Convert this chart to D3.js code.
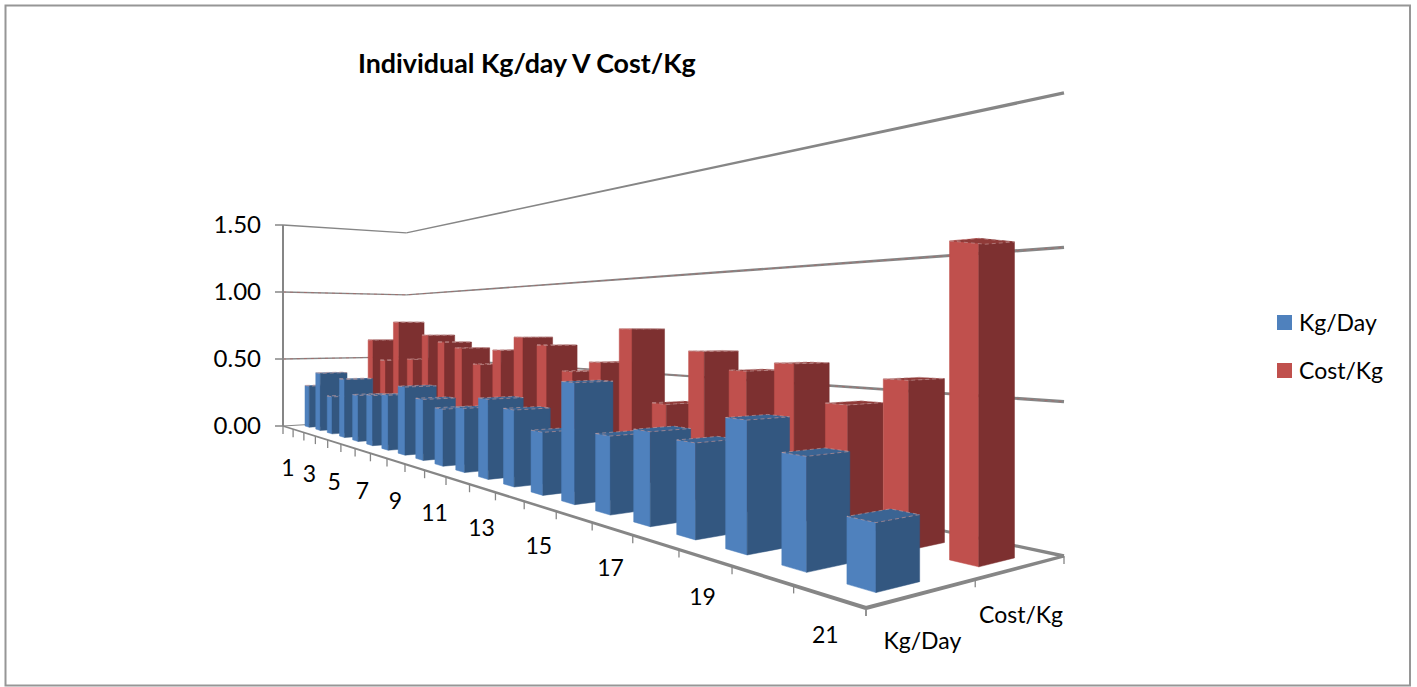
<!DOCTYPE html>
<html>
<head>
<meta charset="utf-8">
<script src="https://cdn.jsdelivr.net/npm/d3@7"></script>
<style>
  html, body { margin: 0; padding: 0; background: #fff; }
  svg { display: block; }
  text { font-family: Lato, "Open Sans", sans-serif; fill: #000; }
</style>
</head>
<body>
<div id="graph"></div>
<script>
const width = 1417,
  height = 687;

const categories = d3.range(1, 22);
const labelledCategories = [1, 3, 5, 7, 9, 11, 13, 15, 17, 19, 21];
const seriesNames = ["Kg/Day", "Cost/Kg"];
const kgDay = [0.303, 0.408, 0.256, 0.388, 0.297, 0.312, 0.330, 0.393, 0.338, 0.303, 0.326,
  0.389, 0.356, 0.277, 0.508, 0.311, 0.352, 0.337, 0.438, 0.350, 0.195];
const costKg = [0.640, 0.491, 0.776, 0.513, 0.685, 0.641, 0.607, 0.512, 0.604, 0.683, 0.642,
  0.510, 0.565, 0.732, 0.395, 0.637, 0.564, 0.602, 0.464, 0.564, 1.015];
const valueTicks = [0, 0.5, 1, 1.5];

const seriesValues = [kgDay, costKg];
const faceColors = [
  { side: "#4f81bd", front: "#335780", top: "#3b6493" },
  { side: "#c0504d", front: "#7d3030", top: "#8f3a38" }
];

const svg = d3.select("#graph").append("svg")
  .attr("width", width)
  .attr("height", height);

// floor of the 3d box on screen, going left, front, right, back
const floor = [[283, 426], [866, 608], [1064, 556], [406.3, 418.8]];

const uScale = d3.scaleBand().domain(categories).range([0.002, 1])
  .paddingInner(0.6).paddingOuter(0.3);
const vScale = d3.scaleBand().domain(seriesNames).range([-0.01, 0.99])
  .paddingInner(0.6).paddingOuter(0.3);
const valueScale = d3.scaleLinear().domain([0, 1.5]).range([0, 201]);

// perspective: unit square to floor quad, heights shrink with the same divisor
const persp = (function () {
  const [p0, p1, p2, p3] = floor;
  const dx1 = p1[0] - p2[0], dx2 = p3[0] - p2[0], sx = p0[0] - p1[0] + p2[0] - p3[0];
  const dy1 = p1[1] - p2[1], dy2 = p3[1] - p2[1], sy = p0[1] - p1[1] + p2[1] - p3[1];
  const det = dx1 * dy2 - dx2 * dy1;
  const g = (sx * dy2 - dx2 * sy) / det;
  const h = (dx1 * sy - sx * dy1) / det;
  const a = p1[0] - p0[0] + g * p1[0], b = p3[0] - p0[0] + h * p3[0];
  const d = p1[1] - p0[1] + g * p1[1], e = p3[1] - p0[1] + h * p3[1];
  return { a, b, d, e, g, h, c: p0[0], f: p0[1] };
})();

function depth(u, v) {
  return 1 + persp.g * u + persp.h * v;
}

function project(u, v, value) {
  const w = depth(u, v);
  return [
    (persp.a * u + persp.b * v + persp.c) / w,
    (persp.d * u + persp.e * v + persp.f - valueScale(value)) / w
  ];
}

const polygon = d3.line().curve(d3.curveLinearClosed);

// line that gets thicker as it comes closer
function taperedLine(g, from, to, scale, color) {
  const a = project(...from), b = project(...to);
  const w0 = scale / depth(from[0], from[1]) / 2, w1 = scale / depth(to[0], to[1]) / 2;
  const len = Math.hypot(b[0] - a[0], b[1] - a[1]);
  const nx = -(b[1] - a[1]) / len, ny = (b[0] - a[0]) / len;
  g.append("path")
    .attr("fill", color)
    .attr("d", polygon([
      [a[0] + nx * w0, a[1] + ny * w0], [b[0] + nx * w1, b[1] + ny * w1],
      [b[0] - nx * w1, b[1] - ny * w1], [a[0] - nx * w0, a[1] - ny * w0]
    ]));
}

svg.append("rect")
  .attr("x", 5.5).attr("y", 5.5)
  .attr("width", 1404.5).attr("height", 680)
  .attr("fill", "#fff")
  .attr("stroke", "#969696")
  .attr("stroke-width", 2);

svg.append("text")
  .attr("x", 358).attr("y", 72.5)
  .attr("font-size", 26.8)
  .attr("font-weight", 700)
  .text("Individual Kg/day V Cost/Kg");

const grid = svg.append("g");
const gray = "#868686";

// walls
valueTicks.forEach(t => {
  const scale = 1.45;
  if (t > 0) {
    taperedLine(grid, [0, 0, t], [0, 1, t], scale, gray);
    taperedLine(grid, [0, 1, t], [1, 1, t], scale, gray);
    if (t < 1.5) {
      grid.append("path")
        .attr("fill", "none")
        .attr("stroke", "#c0504d")
        .attr("stroke-opacity", 0.55)
        .attr("stroke-width", 0.8)
        .attr("stroke-dasharray", "3 4")
        .attr("d", d3.line()([project(0, 0, t), project(0, 1, t), project(1, 1, t)]));
    }
  }
  const p = project(0, 0, t);
  grid.append("line")
    .attr("x1", p[0] - 8).attr("x2", p[0])
    .attr("y1", p[1]).attr("y2", p[1])
    .attr("stroke", gray).attr("stroke-width", 1.5);
  svg.append("text")
    .attr("x", p[0] - 22)
    .attr("y", p[1])
    .attr("dy", "0.35em")
    .attr("text-anchor", "end")
    .attr("font-size", 24)
    .text(t.toFixed(2));
});

grid.append("line")
  .attr("x1", floor[0][0]).attr("x2", floor[0][0])
  .attr("y1", project(0, 0, 1.5)[1]).attr("y2", floor[0][1])
  .attr("stroke", gray).attr("stroke-width", 2);

// floor edges
taperedLine(grid, [0, 1, 0], [1, 1, 0], 1.45, gray);
taperedLine(grid, [0, 0, 0], [0, 1, 0], 1.0, gray);
taperedLine(grid, [0, 0, 0], [1, 0, 0], 1.45, gray);
taperedLine(grid, [1, 0, 0], [1, 1, 0], 1.45, gray);

// ticks
const uTicks = categories.map((c, i) => i / categories.length).concat([1]);
uTicks.forEach(u => {
  const p = project(u, 0, 0);
  grid.append("line")
    .attr("x1", p[0]).attr("x2", p[0])
    .attr("y1", p[1]).attr("y2", p[1] + 8)
    .attr("stroke", gray).attr("stroke-width", 1.3);
});
[0, 0.5, 1].forEach(v => {
  const p = project(1, v, 0);
  grid.append("line")
    .attr("x1", p[0]).attr("x2", p[0])
    .attr("y1", p[1]).attr("y2", p[1] + 8)
    .attr("stroke", gray).attr("stroke-width", 1.3);
});

// bars, back series first then left to right so nearer ones cover
const bars = svg.append("g");
[1, 0].forEach(s => {
  const colors = faceColors[s];
  const v0 = vScale(seriesNames[s]), v1 = v0 + vScale.bandwidth();
  const barData = categories.map((c, i) => ({ c, value: seriesValues[s][i] }));

  const bar = bars.append("g").selectAll("g")
    .data(barData)
    .join("g");

  const u0 = d => uScale(d.c), u1 = d => uScale(d.c) + uScale.bandwidth();

  bar.append("path")
    .attr("fill", colors.side)
    .attr("stroke", colors.side)
    .attr("stroke-width", 0.5)
    .attr("d", d => polygon([
      project(u0(d), v0, 0), project(u1(d), v0, 0),
      project(u1(d), v0, d.value), project(u0(d), v0, d.value)
    ]));

  bar.append("path")
    .attr("fill", colors.front)
    .attr("stroke", colors.front)
    .attr("stroke-width", 0.5)
    .attr("d", d => polygon([
      project(u1(d), v0, 0), project(u1(d), v1, 0),
      project(u1(d), v1, d.value), project(u1(d), v0, d.value)
    ]));

  bar.append("path")
    .attr("fill", colors.top)
    .attr("stroke", "#c9a0a0")
    .attr("stroke-width", 0.6)
    .attr("stroke-dasharray", "4 3")
    .attr("d", d => polygon([
      project(u0(d), v0, d.value), project(u1(d), v0, d.value),
      project(u1(d), v1, d.value), project(u0(d), v1, d.value)
    ]));
});

// axis labels
const labelU = d => uScale(d) + uScale.bandwidth() / 2 - 0.002;

svg.append("g").selectAll("text")
  .data(labelledCategories)
  .join("text")
  .attr("x", d => project(labelU(d), 0, 0)[0])
  .attr("y", d => project(labelU(d), 0, 0)[1] + 40)
  .attr("dy", "0.35em")
  .attr("text-anchor", "middle")
  .attr("font-size", 23)
  .text(d => d);

svg.append("g").selectAll("text")
  .data(seriesNames)
  .join("text")
  .attr("x", d => project(1, vScale(d) + vScale.bandwidth() / 2, 0)[0] + 1)
  .attr("y", d => project(1, vScale(d) + vScale.bandwidth() / 2, 0)[1] + 47)
  .attr("dy", "0.35em")
  .attr("text-anchor", "middle")
  .attr("font-size", 23)
  .text(d => d);

// legend
const legend = svg.append("g").selectAll("g")
  .data(seriesNames)
  .join("g")
  .attr("transform", (d, i) => `translate(1277,${315 + i * 48})`);

legend.append("rect")
  .attr("width", 15).attr("height", 15)
  .attr("fill", (d, i) => faceColors[i].side);

legend.append("text")
  .attr("x", 22).attr("y", 8)
  .attr("dy", "0.35em")
  .attr("font-size", 23)
  .text(d => d);
</script>
</body>
</html>
